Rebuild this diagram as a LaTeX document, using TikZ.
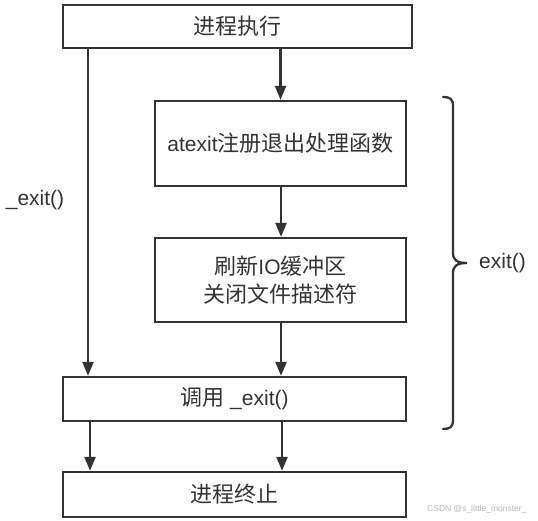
\documentclass[tikz,border=0pt]{standalone}
\usepackage{fontspec}
\setmainfont{Liberation Sans}
\newfontfamily\cjkfont{Noto Sans CJK SC}
\usetikzlibrary{arrows.meta}
\definecolor{ln}{HTML}{333333}
\definecolor{wm}{HTML}{B4B4B4}
\newcommand\zhtext[1]{{\cjkfont\fontsize{22pt}{28pt}\selectfont #1}}
\begin{document}
\begin{tikzpicture}[x=1pt,y=-1pt,
  box/.style={draw=ln, line width=2.3pt, inner sep=0pt, text=ln, font=\fontsize{21pt}{28pt}\selectfont, align=center},
  arr/.style={draw=ln, line width=2.3pt, -{Triangle[length=14pt,width=11pt]}},
  lbl/.style={text=ln, font=\fontsize{21pt}{24pt}\selectfont, inner sep=0pt},
  brace/.style={draw=ln, line width=2.3pt, line cap=round}]
\useasboundingbox (0,0) rectangle (538,521);
\node[box, minimum width=349pt, minimum height=43pt] (top) at (237.5,26.5) {\zhtext{进程执行}};
\node[box, minimum width=251pt, minimum height=85pt] (atexit) at (280.5,143.5) {atexit\zhtext{注册退出处理函数}};
\node[box, minimum width=251pt, minimum height=84pt] (flush) at (280.5,280) {\zhtext{刷新}IO\zhtext{缓冲区}\\\zhtext{关闭文件描述符}};
\node[box, minimum width=343pt, minimum height=44pt] (call) at (234.5,399) {\zhtext{调用} \_exit()};
\node[box, minimum width=343pt, minimum height=45pt] (end) at (234.5,494.5) {\zhtext{进程终止}};
\coordinate (xl1) at (88,0);
\coordinate (xl2) at (90,0);
\coordinate (xr) at (281,0);
\coordinate (xr2) at (282,0);
\draw[arr] (top.south -| atexit.north) -- (atexit.north);
\draw[arr] (top.south -| xl1) -- (call.north -| xl1);
\draw[arr] (atexit.south -| xr) -- (flush.north -| xr);
\draw[arr] (flush.south -| xr) -- (call.north -| xr);
\draw[arr] (call.south -| xl2) -- (end.north -| xl2);
\draw[arr] (call.south -| xr2) -- (end.north -| xr2);
\node[lbl] (uexit) at (35,200) {\_exit()};
\draw[brace] (443,97) .. controls (450,97) and (453,99) .. (453,106) -- (453,253)
  .. controls (453,260) and (457,263) .. (467,263)
  .. controls (457,263) and (453,266) .. (453,273) -- (453,420)
  .. controls (453,427) and (450,429) .. (443,429);
\node[lbl, anchor=west] (exitlbl) at (479,263) {exit()};
\node[text=wm, font=\fontsize{8.5pt}{10pt}\selectfont, inner sep=0pt, anchor=west] (mark) at (427,509) {CSDN @s\_little\_monster\_};
\end{tikzpicture}
\end{document}
